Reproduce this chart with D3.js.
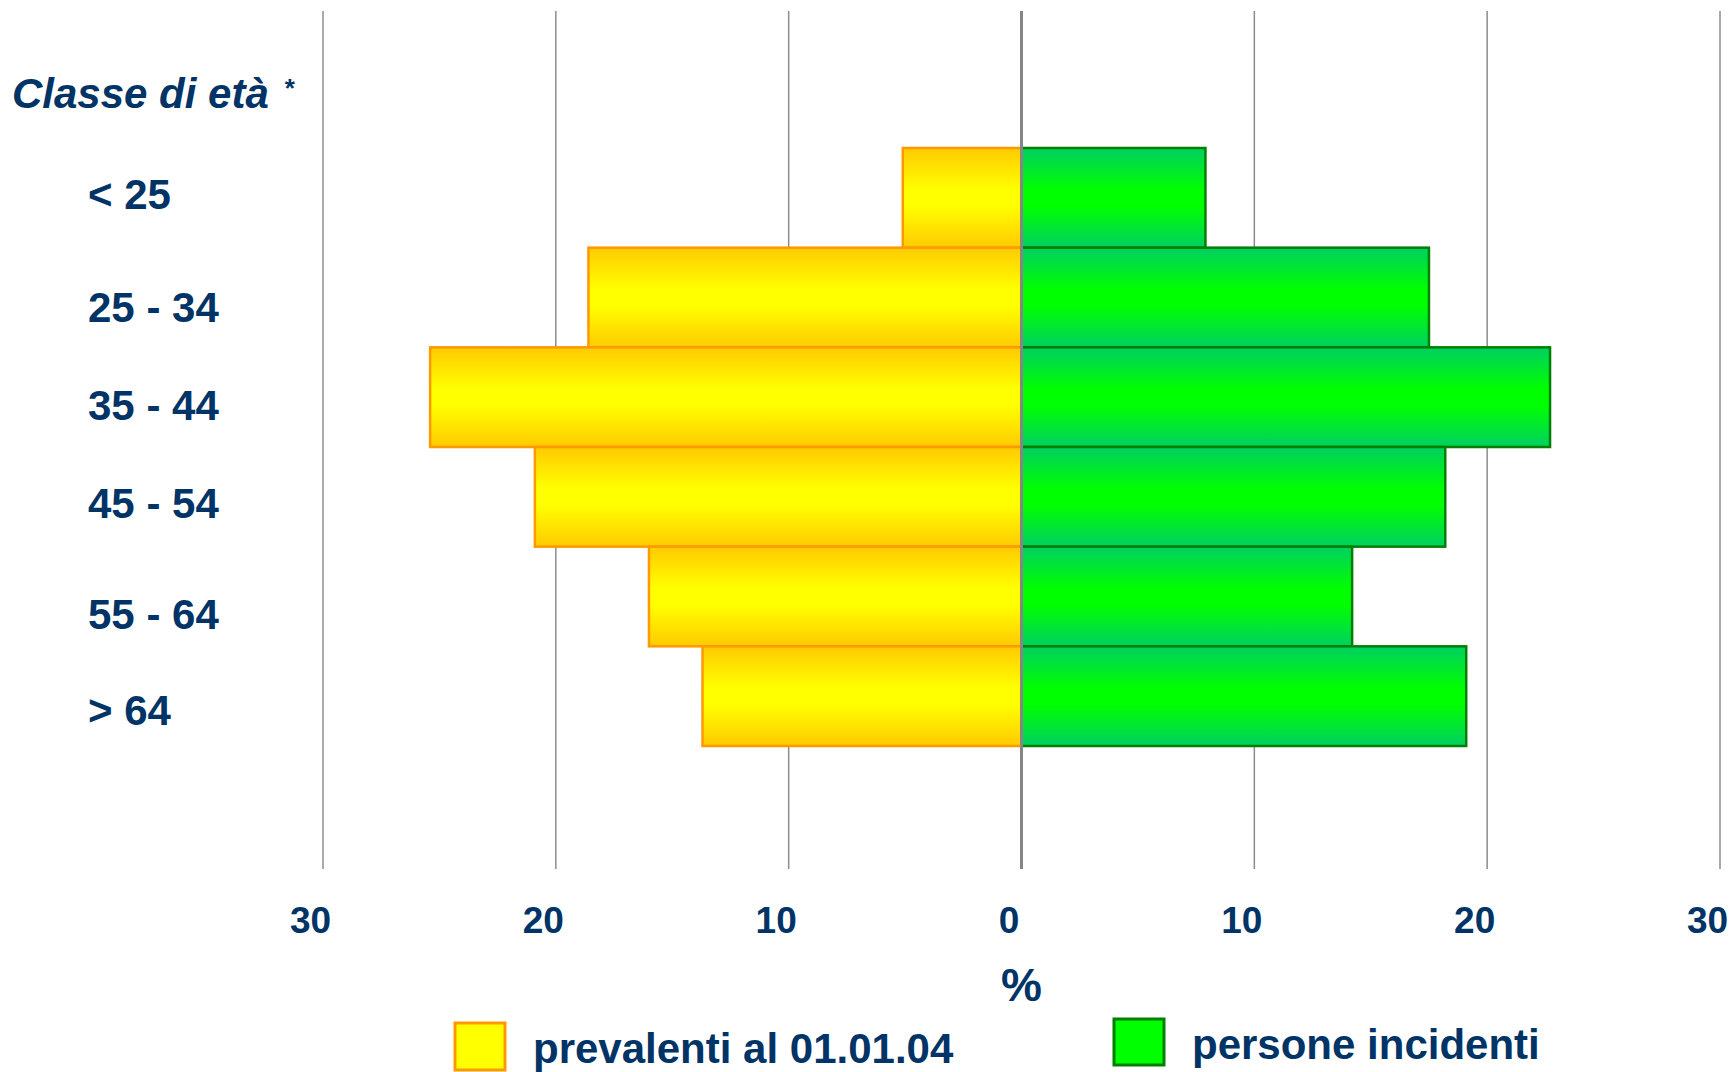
<!DOCTYPE html>
<html>
<head>
<meta charset="utf-8">
<script src="https://cdn.jsdelivr.net/npm/d3@7"></script>
<style>
  html, body { margin: 0; padding: 0; background: #ffffff; }
  svg { display: block; }
  text { font-family: "Liberation Sans", Arial, Helvetica, sans-serif; font-weight: bold; fill: #003366; }
</style>
</head>
<body>
<svg id="chart" width="1734" height="1072"></svg>
<script>
// ---- data ----
const categories = ["< 25", "25 - 34", "35 - 44", "45 - 54", "55 - 64", "> 64"];
const prevalenti = [5.1, 18.6, 25.4, 20.9, 16.0, 13.7];   // % (left side)
const incidenti  = [7.9, 17.5, 22.7, 18.2, 14.2, 19.1];   // % (right side)
const tickValues = [-30, -20, -10, 0, 10, 20, 30];
const seriesNames = ["prevalenti al 01.01.04", "persone incidenti"];
const axisTitle = "Classe di età";
const xTitle = "%";

// ---- layout ----
const W = 1734, H = 1072;
const labelNudge = [-10, 3, 2, 0, 11, 8];   // typographic offsets of category labels (px)
const svg = d3.select("#chart");

const x = d3.scaleLinear().domain([-30, 30]).range([323, 1720]);
const y = d3.scaleBand().domain(categories).range([148, 746]).paddingInner(0).paddingOuter(0);
const gridTop = 11, gridBottom = 869;

// gradients
const defs = svg.append("defs");
function vGrad(id, edge, mid) {
  const g = defs.append("linearGradient").attr("id", id)
    .attr("x1", 0).attr("y1", 0).attr("x2", 0).attr("y2", 1);
  [[0, edge], [0.42, mid], [0.58, mid], [1, edge]].forEach(([o, c]) =>
    g.append("stop").attr("offset", o).attr("stop-color", c));
}
vGrad("gradYellow", "#FFCA00", "#FFFF00");
vGrad("gradGreen", "#00CF62", "#00FF00");

// grid lines
svg.append("g").selectAll("line").data(tickValues.filter(d => d !== 0)).join("line")
  .attr("x1", d => x(d)).attr("x2", d => x(d))
  .attr("y1", gridTop).attr("y2", gridBottom)
  .attr("stroke", "#8c8c8c").attr("stroke-width", 1.5);

// bars
const rows = categories.map((c, i) => ({ c, p: prevalenti[i], n: incidenti[i] }));
svg.append("g").selectAll("rect").data(rows).join("rect")
  .attr("x", d => x(-d.p)).attr("width", d => x(0) - x(-d.p))
  .attr("y", d => y(d.c)).attr("height", y.bandwidth())
  .attr("fill", "url(#gradYellow)").attr("stroke", "#FF9900").attr("stroke-width", 2.5);
svg.append("g").selectAll("rect").data(rows).join("rect")
  .attr("x", x(0)).attr("width", d => x(d.n) - x(0))
  .attr("y", d => y(d.c)).attr("height", y.bandwidth())
  .attr("fill", "url(#gradGreen)").attr("stroke", "#008000").attr("stroke-width", 2.5);

// centre line
svg.append("line")
  .attr("x1", x(0)).attr("x2", x(0)).attr("y1", gridTop).attr("y2", gridBottom)
  .attr("stroke", "#858585").attr("stroke-width", 3);

// category labels
svg.append("g").selectAll("text").data(categories).join("text")
  .attr("x", 88).attr("y", (d, i) => y(d) + y.bandwidth() / 2 + 21 + labelNudge[i])
  .attr("font-size", 42).text(d => d);

// axis title
const t = svg.append("text").attr("x", 12).attr("y", 108)
  .attr("font-size", 42).attr("font-style", "italic").text(axisTitle);
t.append("tspan").attr("font-size", 26).attr("font-style", "normal")
  .attr("dx", 16).attr("dy", -11).text("*");

// bottom axis
const axis = d3.axisBottom(x).tickValues(tickValues).tickFormat(d => Math.abs(d)).tickSize(0);
const ag = svg.append("g").attr("transform", "translate(0,933)").call(axis);
ag.select(".domain").remove();
ag.selectAll("text")
  .attr("y", 0).attr("dy", 0).attr("dx", -13)
  .attr("font-size", 37).attr("fill", "#003366")
  .attr("font-family", "Liberation Sans, Arial, sans-serif").attr("font-weight", "bold");

svg.append("text").attr("x", x(0)).attr("y", 1001).attr("text-anchor", "middle")
  .attr("font-size", 46).text(xTitle);

// legend
const legend = [
  { name: seriesNames[0], fill: "#FFFF00", stroke: "#FF9900", sx: 455, sy: 1023, sh: 47, tx: 533, ty: 1063 },
  { name: seriesNames[1], fill: "#00FF00", stroke: "#008000", sx: 1114, sy: 1019, sh: 46, tx: 1192, ty: 1059 }
];
const lg = svg.append("g").selectAll("g").data(legend).join("g");
lg.append("rect").attr("x", d => d.sx).attr("y", d => d.sy).attr("width", 50).attr("height", d => d.sh)
  .attr("fill", d => d.fill).attr("stroke", d => d.stroke).attr("stroke-width", 3);
lg.append("text").attr("x", d => d.tx).attr("y", d => d.ty).attr("font-size", 42).text(d => d.name);
</script>
</body>
</html>
